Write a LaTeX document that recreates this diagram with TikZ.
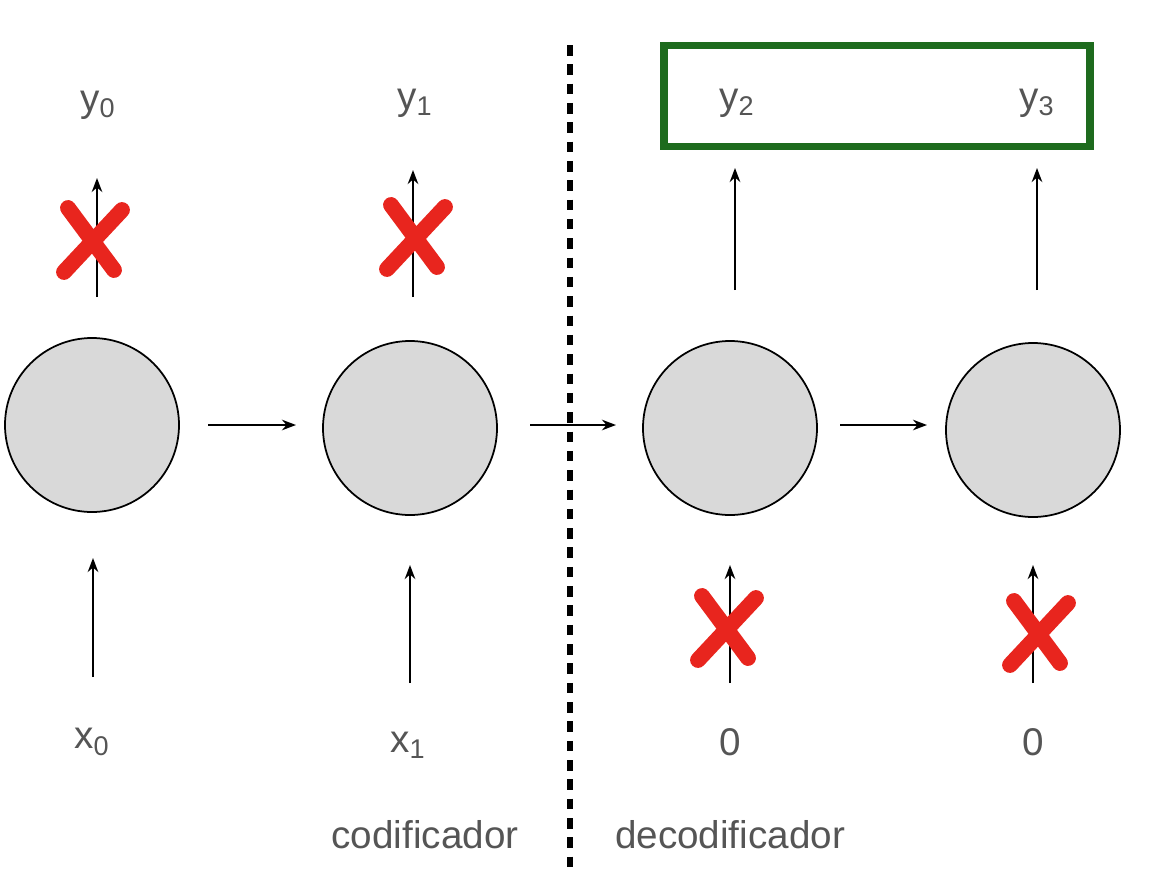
\documentclass[tikz,border=0pt]{standalone}
\usepackage{fontspec}
\setmainfont{Liberation Sans}
\usetikzlibrary{arrows.meta}
\definecolor{txtgray}{HTML}{555555}
\definecolor{boxgreen}{HTML}{1E6B1E}
\definecolor{cellgray}{HTML}{D9D9D9}
\definecolor{crossred}{HTML}{E8251E}
\tikzset{
  cell/.style={circle,draw=black,fill=cellgray,line width=1pt,minimum size=174*0.02cm,inner sep=0pt},
  lbl/.style={text=txtgray,font=\fontsize{22}{24}\selectfont,inner sep=0pt},
  flow/.style={-{Stealth[length=8pt,width=6pt]},line width=1.2pt},
  nope/.style={crossred,line width=9pt,line cap=round}
}
\newcommand{\nocross}[2]{%
  \draw[nope] (#1-24,#2-32) -- (#1+22,#2+30);
  \draw[nope] (#1+30,#2-30) -- (#1-28,#2+32);}
\begin{document}
\begin{tikzpicture}[x=0.02cm,y=-0.02cm]
            \useasboundingbox (0,0) rectangle (1171,896);

            % cells
            \node[cell] (c0) at (92,425){};
            \node[cell] (c1) at (410,428){};
            \node[cell] (c2) at (730,428){};
            \node[cell] (c3) at (1033,430){};

            % outputs and inputs
            \node[lbl] (y0) at (98,105){y\textsubscript{0}};
            \node[lbl] (y1) at (415,103){y\textsubscript{1}};
            \node[lbl] (y2) at (737,103){y\textsubscript{2}};
            \node[lbl] (y3) at (1037,103){y\textsubscript{3}};
            \node[lbl] (x0) at (92,742){x\textsubscript{0}};
            \node[lbl] (x1) at (408,745){x\textsubscript{1}};
            \node[lbl] (z2) at (730,742){0};
            \node[lbl] (z3) at (1033,742){0};
            \node[lbl] (enc) at (425,835){codificador};
            \node[lbl] (dec) at (730,835){decodificador};

            \coordinate (o0s) at (97,297);  \coordinate (o0e) at (97,178);
            \coordinate (o1s) at (413,297); \coordinate (o1e) at (413,170);
            \coordinate (o2s) at (735,290); \coordinate (o2e) at (735,168);
            \coordinate (o3s) at (1037,290);\coordinate (o3e) at (1037,168);
            \coordinate (i0s) at (93,677);  \coordinate (i0e) at (93,558);
            \coordinate (i1s) at (410,683); \coordinate (i1e) at (410,565);
            \coordinate (i2s) at (730,683); \coordinate (i2e) at (730,565);
            \coordinate (i3s) at (1033,683);\coordinate (i3e) at (1033,565);
            \coordinate (h0s) at (208,425); \coordinate (h0e) at (296,425);
            \coordinate (h1s) at (530,425); \coordinate (h1e) at (616,425);
            \coordinate (h2s) at (840,425); \coordinate (h2e) at (927,425);

            \foreach \n in {o0,o1,o2,o3,i0,i1,i2,i3,h0,h1,h2}
              \draw[flow] (\n s) -- (\n e);

            % split
            \coordinate (splitTop) at (570,45);
            \coordinate (splitBot) at (570,870);
            \draw[line width=3pt,dash pattern=on 6pt off 5pt] (splitTop) -- (splitBot);

            \node[draw=boxgreen,line width=4pt,minimum width=426*0.02cm,minimum height=101*0.02cm,inner sep=0pt] (out) at (877,96){};

            \nocross{92}{240}
            \nocross{415}{237}
            \nocross{726}{628}
            \nocross{1038}{633}
\end{tikzpicture}
\end{document}
